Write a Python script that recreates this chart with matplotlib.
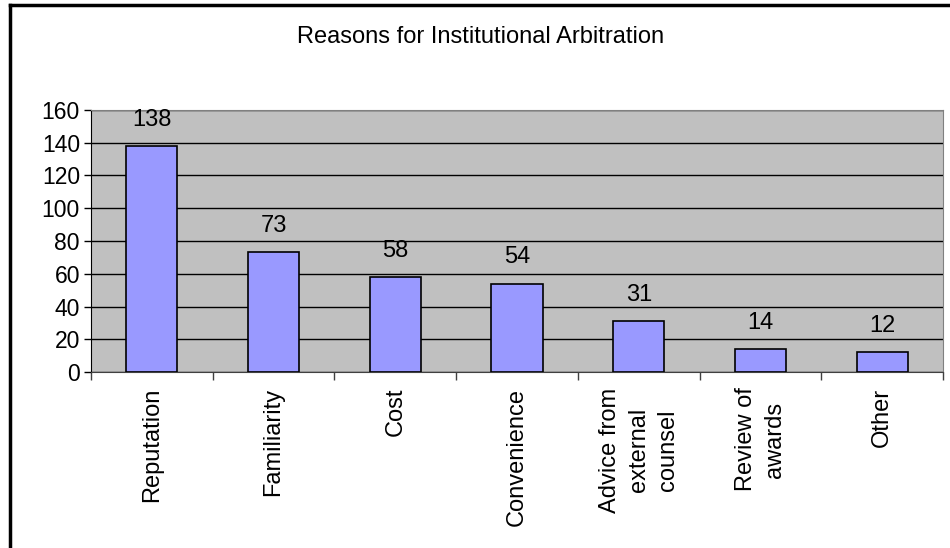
import matplotlib
matplotlib.use('Agg')
import matplotlib.pyplot as plt
from matplotlib.lines import Line2D

plt.rcParams['font.family'] = ['Liberation Sans', 'DejaVu Sans']

categories = ['Reputation', 'Familiarity', 'Cost', 'Convenience',
              'Advice from\nexternal\ncounsel', 'Review of\nawards', 'Other']
counts = [138, 73, 58, 54, 31, 14, 12]
yticks = [0, 20, 40, 60, 80, 100, 120, 140, 160]

fig = plt.figure(figsize=(9.5, 5.48), dpi=100)
ax = fig.add_axes([91 / 950, 1 - 372 / 548, 852 / 950, 262 / 548])
ax.set_facecolor('#c0c0c0')

x = list(range(len(categories)))
ax.bar(x, counts, width=0.42, color='#9999ff', edgecolor='black', linewidth=1.2, zorder=3)
for xi, c in zip(x, counts):
    ax.annotate(str(c), (xi, c), xytext=(0, 19), textcoords='offset points',
                ha='center', va='center', fontsize=17)

ax.set_xlim(-0.5, len(categories) - 0.5)
ax.set_ylim(0, 160)
ax.set_yticks(yticks)
ax.tick_params(axis='y', labelsize=16.5, direction='out', length=5, width=1, pad=3)
ax.yaxis.grid(True, color='black', linewidth=1, zorder=1)
ax.set_axisbelow(True)

# category ticks sit between bars, labels centred under each bar
ax.set_xticks([i + 0.5 for i in x[:-1]] + [-0.5, len(categories) - 0.5])
ax.set_xticklabels([])
ax.tick_params(axis='x', direction='out', length=6, width=1, color='#404040')
for xi, lab in zip(x, categories):
    ax.text(xi, -9.5, lab, rotation=90, ha='center', va='top', multialignment='center',
            fontsize=17, linespacing=1.4)

for s in ['top', 'right']:
    ax.spines[s].set_color('#808080')
ax.spines['left'].set_color('black')
ax.spines['bottom'].set_color('#404040')

fig.text(481 / 950, 1 - 37 / 548, 'Reasons for Institutional Arbitration',
         ha='center', va='center', fontsize=17)

# chart frame
fig.add_artist(Line2D([10 / 950, 10 / 950], [0, 1 - 5 / 548], color='black', linewidth=2.5))
fig.add_artist(Line2D([10 / 950, 1], [1 - 5 / 548, 1 - 5 / 548], color='black', linewidth=2.5))

fig.savefig('out.png', dpi=100)
